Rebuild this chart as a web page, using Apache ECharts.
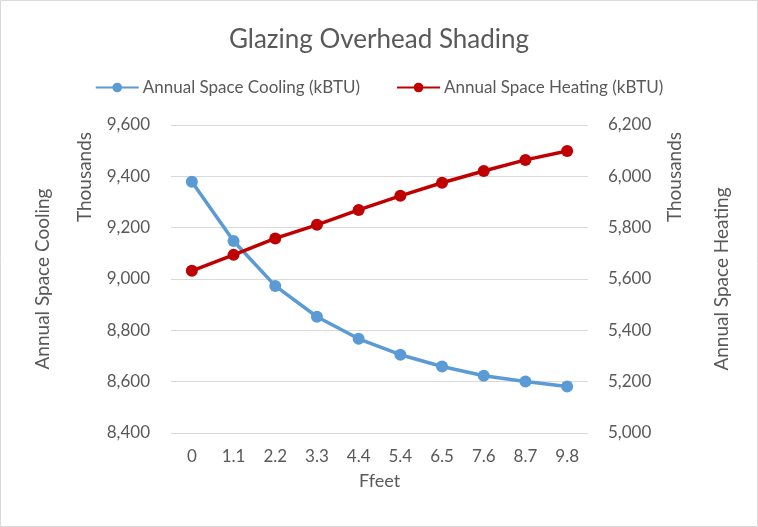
<!DOCTYPE html>
<html>
<head>
<meta charset="utf-8">
<script src="https://cdn.jsdelivr.net/npm/echarts@6/dist/echarts.min.js"></script>
<style>
  html, body { margin: 0; padding: 0; background: #fff; }
  #main { width: 758px; height: 527px; }
</style>
</head>
<body>
<div id="main"></div>
<script>
// data (values in thousands of kBTU)
var feet = ['0', '1.1', '2.2', '3.3', '4.4', '5.4', '6.5', '7.6', '8.7', '9.8'];
var cooling = [9379, 9148, 8973, 8853, 8767, 8705, 8659, 8623, 8601, 8581];
var heating = [5632, 5694, 5758, 5811, 5869, 5924, 5975, 6021, 6064, 6099];

var font = 'Lato, "Open Sans", sans-serif'
  , grey = '#595959';

var chart = echarts.init(document.getElementById('main'));

var option = {
    backgroundColor: '#fff',
    animation: false,
    title: {
        text: 'Glazing Overhead Shading',
        left: 'center',
        top: 22,
        textStyle: { fontFamily: font, fontSize: 26, fontWeight: 'normal', color: grey }
    },
    legend: {
        top: 74,
        left: 'center',
        itemGap: 36,
        itemWidth: 43,
        itemHeight: 12,
        textStyle: { fontFamily: font, fontSize: 17, color: grey, padding: [0, 0, 0, -1] },
        data: ['Annual Space Cooling (kBTU)', 'Annual Space Heating (kBTU)']
    },
    grid: { left: 171, right: 170, top: 125, bottom: 94 },
    xAxis: {
        type: 'category',
        data: feet,
        name: 'Ffeet',
        nameLocation: 'middle',
        nameGap: 39,
        nameTextStyle: { fontFamily: font, fontSize: 18, color: grey },
        axisLine: { show: false },
        axisTick: { show: false },
        axisLabel: { fontFamily: font, fontSize: 17, color: grey, margin: 15 }
    },
    yAxis: [{
        type: 'value',
        min: 8400, max: 9600, interval: 200,
        name: 'Annual Space Cooling',
        nameLocation: 'middle',
        nameRotate: 90,
        nameGap: 119,
        nameTextStyle: { fontFamily: font, fontSize: 19, color: grey },
        axisLabel: {
            fontFamily: font, fontSize: 17, color: grey, margin: 21,
            formatter: function (v) { return v.toLocaleString('en-US'); }
        },
        splitLine: { lineStyle: { color: '#d9d9d9', width: 1 } }
    }, {
        type: 'value',
        min: 5000, max: 6200, interval: 200,
        name: 'Annual Space Heating',
        nameLocation: 'middle',
        nameRotate: 90,
        nameGap: 124,
        nameTextStyle: { fontFamily: font, fontSize: 19, color: grey },
        axisLabel: {
            fontFamily: font, fontSize: 17, color: grey, margin: 20,
            formatter: function (v) { return v.toLocaleString('en-US'); }
        },
        splitLine: { show: false }
    }],
    graphic: [{
        type: 'rect',
        shape: { x: 0.5, y: 0.5, width: 757, height: 526 },
        style: { fill: 'none', stroke: '#d9d9d9', lineWidth: 1 },
        silent: true
    }, {
        type: 'text',
        x: 85, y: 177, rotation: Math.PI / 2,
        style: { text: 'Thousands', fontFamily: font, fontSize: 19, fill: grey, align: 'center', verticalAlign: 'middle' }
    }, {
        type: 'text',
        x: 675, y: 177, rotation: Math.PI / 2,
        style: { text: 'Thousands', fontFamily: font, fontSize: 19, fill: grey, align: 'center', verticalAlign: 'middle' }
    }],
    series: [{
        name: 'Annual Space Cooling (kBTU)',
        type: 'line',
        yAxisIndex: 0,
        data: cooling,
        symbol: 'circle',
        symbolSize: 12,
        lineStyle: { width: 3.5, color: '#5b9bd5' },
        itemStyle: { color: '#5b9bd5' }
    }, {
        name: 'Annual Space Heating (kBTU)',
        type: 'line',
        yAxisIndex: 1,
        data: heating,
        symbol: 'circle',
        symbolSize: 12,
        lineStyle: { width: 3.5, color: '#c00000' },
        itemStyle: { color: '#c00000' }
    }]
};

chart.setOption(option);
</script>
</body>
</html>
